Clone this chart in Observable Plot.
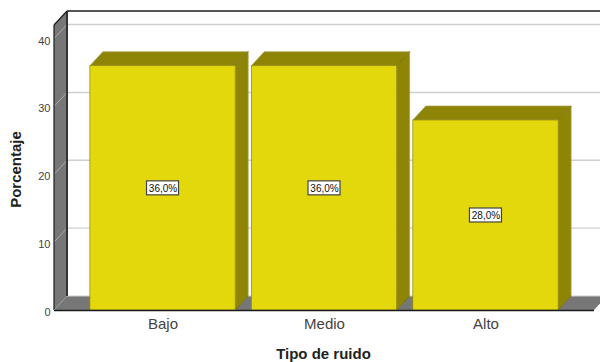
<!DOCTYPE html>
<html>
<head>
<meta charset="utf-8">
<script src="https://cdn.jsdelivr.net/npm/d3@7"></script>
<script src="https://cdn.jsdelivr.net/npm/@observablehq/plot@0.6"></script>
<style>
  html, body { margin: 0; padding: 0; background: #fff; overflow: hidden; }
  svg { display: block; }
</style>
</head>
<body>
<div id="chart"></div>
<script>
const categories = ["Bajo", "Medio", "Alto"];
const percentages = [36, 36, 28];
const yTicks = [0, 10, 20, 30, 40];

const rows = categories.map((category, i) => ({category, value: percentages[i]}));
const percentLabel = (v) => v.toFixed(1).replace(".", ",") + "%";

// Depth of the extruded look, in pixels
const depthX = 13;
const depthY = -14;
const sans = "'Liberation Sans', Arial, sans-serif";

const ns = "http://www.w3.org/2000/svg";
function poly(group, points, attrs) {
  const p = document.createElementNS(ns, "polygon");
  p.setAttribute("points", points.map((d) => d.join(",")).join(" "));
  for (const k in attrs) p.setAttribute(k, attrs[k]);
  group.appendChild(p);
}
function seg(group, x1, y1, x2, y2, stroke, width) {
  const l = document.createElementNS(ns, "line");
  l.setAttribute("x1", x1); l.setAttribute("y1", y1);
  l.setAttribute("x2", x2); l.setAttribute("y2", y2);
  l.setAttribute("stroke", stroke); l.setAttribute("stroke-width", width);
  group.appendChild(l);
}

// Back wall, left wall, floor and their gridlines
function chamber(index, {y}, values, {width, height, marginLeft, marginRight, marginTop, marginBottom}) {
  const g = document.createElementNS(ns, "g");
  const left = marginLeft;
  const right = width - marginRight;
  const bottom = height - marginBottom;
  const top = marginTop;
  const backLeft = left + depthX;
  const backBottom = bottom + depthY;
  const backTop = top + depthY;
  poly(g, [[left, top], [backLeft, backTop], [backLeft, backBottom], [left, bottom]], {fill: "#777777", stroke: "none"});
  poly(g, [[left, bottom], [backLeft, backBottom], [right + depthX, backBottom], [right, bottom]], {fill: "#777777", stroke: "none"});
  for (const t of yTicks.slice(1)) {
    seg(g, backLeft, y(t) + depthY, width, y(t) + depthY, "#cfcfcf", 1.4);
    seg(g, left, y(t), backLeft, y(t) + depthY, "#a9a9a9", 1);
  }
  seg(g, backLeft, backBottom, width, backBottom, "#cfcfcf", 1.2);
  seg(g, backLeft, backTop, width, backTop, "#1c1c1c", 1.4);
  seg(g, backLeft, backTop, backLeft, backBottom, "#333333", 2);
  seg(g, left, top, backLeft, backTop, "#1c1c1c", 1.2);
  seg(g, left, top, left, bottom, "#1c1c1c", 1.2);
  seg(g, left, bottom, backLeft, backBottom, "#9a9a9a", 1);
  return g;
}

// Top and right faces of each bar, set behind its front face
function barDepth(index, {x, y}) {
  const g = document.createElementNS(ns, "g");
  const w = x.bandwidth();
  for (const d of rows) {
    const x0 = x(d.category);
    const x1 = x0 + w;
    const y0 = y(0);
    const y1 = y(d.value);
    const face = {fill: "#8e8406", stroke: "#a9a256", "stroke-width": 0.7};
    poly(g, [[x0, y1], [x0 + depthX, y1 + depthY], [x1 + depthX, y1 + depthY], [x1, y1]], face);
    poly(g, [[x1, y1], [x1 + depthX, y1 + depthY], [x1 + depthX, y0 + depthY], [x1, y0]], face);
    seg(g, x1, y1, x1 + depthX, y1 + depthY, "#6f6805", 0.8);
    seg(g, x1, y0, x1 + depthX, y0 + depthY, "#6f6805", 0.8);
  }
  return g;
}

// White plate behind each percentage label
function labelPlates(index, {x, y}) {
  const g = document.createElementNS(ns, "g");
  const w = x.bandwidth();
  for (const d of rows) {
    const r = document.createElementNS(ns, "rect");
    r.setAttribute("x", x(d.category) + w / 2 - 16);
    r.setAttribute("y", y(d.value / 2) - 7);
    r.setAttribute("width", 32);
    r.setAttribute("height", 14);
    r.setAttribute("fill", "#fff");
    r.setAttribute("stroke", "#444");
    r.setAttribute("stroke-width", 1.2);
    g.appendChild(r);
  }
  return g;
}

const chart = Plot.plot({
  width: 600,
  height: 362,
  marginLeft: 54,
  marginRight: 6,
  marginTop: 25,
  marginBottom: 52,
  style: {background: "#fff", fontFamily: sans},
  x: {domain: categories, paddingInner: 0.1, paddingOuter: 0.2222, round: false, label: null},
  y: {domain: [0, 42], label: null},
  marks: [
    chamber,
    barDepth,
    Plot.barY(rows, {x: "category", y: "value", fill: "#e3d80c", stroke: "#8f8706", strokeWidth: 0.7}),
    Plot.ruleY([0], {stroke: "#1c1c1c", strokeWidth: 1.6}),
    labelPlates,
    Plot.text(rows, {
      x: "category",
      y: (d) => d.value / 2,
      text: (d) => percentLabel(d.value),
      fontSize: 10,
      fill: "#111",
      fontFamily: sans
    }),
    Plot.axisY({
      ticks: yTicks,
      tickSize: 0,
      tickPadding: 4,
      tickFormat: (d) => String(d),
      fontSize: 11,
      dy: 2,
      color: "#444",
      fontFamily: sans,
      label: null
    }),
    Plot.axisX({
      tickSize: 0,
      tickPadding: 8,
      fontSize: 15,
      color: "#444",
      fontFamily: sans,
      label: null
    }),
    Plot.text(["Tipo de ruido"], {
      frameAnchor: "bottom",
      dx: -1,
      dy: 48,
      fontWeight: "bold",
      fontSize: 15,
      fill: "#222",
      fontFamily: sans
    }),
    Plot.text(["Porcentaje"], {
      frameAnchor: "left",
      textAnchor: "middle",
      dx: -38,
      dy: 1.5,
      rotate: -90,
      fontWeight: "bold",
      fontSize: 15,
      fill: "#222",
      fontFamily: sans
    })
  ]
});
document.getElementById("chart").appendChild(chart);
</script>
</body>
</html>
